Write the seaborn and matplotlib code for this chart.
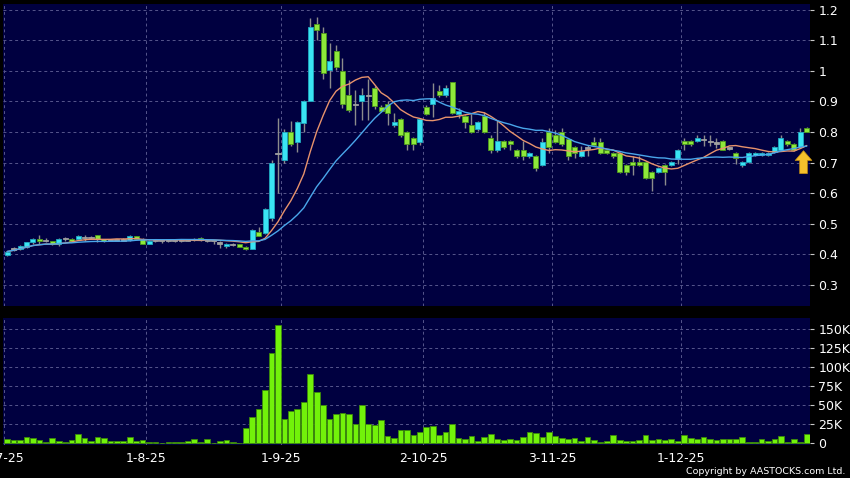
import matplotlib

matplotlib.use("Agg")

import matplotlib.pyplot as plt
import numpy as np
import pandas as pd
import seaborn as sns
from matplotlib.ticker import FuncFormatter

# trading days (HK holidays removed)
holidays = ["2025-10-01", "2025-10-07", "2025-10-29", "2025-12-25", "2025-12-26"]
dates = pd.bdate_range("2025-07-02", "2025-12-30").drop(pd.to_datetime(holidays))

opens = [
    0.396, 0.417, 0.417, 0.425, 0.441, 0.450, 0.446, 0.442, 0.433, 0.452,
    0.450, 0.450, 0.456, 0.456, 0.463, 0.449, 0.447, 0.447, 0.447, 0.447,
    0.460, 0.450, 0.433, 0.446, 0.446, 0.447, 0.446, 0.447, 0.447, 0.446,
    0.453, 0.446, 0.444, 0.437, 0.427, 0.433, 0.433, 0.425, 0.418, 0.472,
    0.470, 0.520, 0.731, 0.709, 0.800, 0.769, 0.831, 0.902, 1.153, 1.124,
    1.004, 1.065, 1.001, 0.920, 0.891, 0.900, 0.920, 0.944, 0.881, 0.891,
    0.824, 0.842, 0.800, 0.780, 0.769, 0.881, 0.891, 0.935, 0.921, 0.963,
    0.860, 0.851, 0.824, 0.810, 0.851, 0.780, 0.741, 0.771, 0.771, 0.742,
    0.742, 0.720, 0.720, 0.693, 0.800, 0.789, 0.800, 0.778, 0.750, 0.721,
    0.748, 0.769, 0.769, 0.742, 0.731, 0.731, 0.693, 0.702, 0.702, 0.702,
    0.669, 0.669, 0.691, 0.691, 0.713, 0.772, 0.772, 0.772, 0.775, 0.770,
    0.764, 0.772, 0.748, 0.731, 0.691, 0.702, 0.726, 0.724, 0.724, 0.735,
    0.742, 0.772, 0.761, 0.750, 0.813,
]
highs = [
    0.412, 0.425, 0.430, 0.440, 0.452, 0.462, 0.452, 0.445, 0.452, 0.455,
    0.452, 0.462, 0.462, 0.460, 0.463, 0.450, 0.450, 0.449, 0.452, 0.462,
    0.461, 0.452, 0.446, 0.448, 0.448, 0.449, 0.448, 0.449, 0.449, 0.452,
    0.455, 0.448, 0.446, 0.442, 0.436, 0.436, 0.435, 0.427, 0.482, 0.490,
    0.550, 0.710, 0.845, 0.810, 0.835, 0.835, 0.905, 1.173, 1.176, 1.145,
    1.090, 1.085, 1.042, 0.970, 0.938, 0.944, 0.973, 0.950, 0.890, 0.900,
    0.862, 0.845, 0.805, 0.785, 0.845, 0.890, 0.962, 0.955, 0.955, 0.965,
    0.880, 0.855, 0.860, 0.835, 0.866, 0.790, 0.840, 0.775, 0.775, 0.745,
    0.770, 0.735, 0.725, 0.780, 0.813, 0.808, 0.813, 0.780, 0.755, 0.755,
    0.758, 0.785, 0.780, 0.745, 0.735, 0.735, 0.695, 0.720, 0.720, 0.705,
    0.672, 0.685, 0.695, 0.705, 0.745, 0.780, 0.775, 0.790, 0.790, 0.790,
    0.780, 0.775, 0.752, 0.735, 0.705, 0.735, 0.735, 0.735, 0.735, 0.755,
    0.790, 0.775, 0.765, 0.813, 0.815,
]
lows = [
    0.395, 0.410, 0.415, 0.420, 0.435, 0.435, 0.440, 0.430, 0.428, 0.445,
    0.440, 0.448, 0.445, 0.450, 0.440, 0.440, 0.445, 0.444, 0.443, 0.445,
    0.448, 0.432, 0.432, 0.440, 0.438, 0.440, 0.440, 0.441, 0.444, 0.444,
    0.445, 0.440, 0.435, 0.420, 0.420, 0.428, 0.424, 0.414, 0.416, 0.460,
    0.465, 0.510, 0.600, 0.700, 0.753, 0.736, 0.800, 0.900, 1.100, 0.974,
    0.944, 1.003, 0.880, 0.867, 0.824, 0.840, 0.840, 0.875, 0.865, 0.824,
    0.818, 0.785, 0.741, 0.741, 0.758, 0.855, 0.850, 0.915, 0.915, 0.858,
    0.845, 0.813, 0.798, 0.805, 0.798, 0.730, 0.735, 0.745, 0.741, 0.715,
    0.710, 0.715, 0.671, 0.690, 0.731, 0.765, 0.755, 0.710, 0.715, 0.718,
    0.720, 0.755, 0.728, 0.728, 0.715, 0.665, 0.660, 0.660, 0.688, 0.645,
    0.606, 0.665, 0.628, 0.688, 0.695, 0.742, 0.755, 0.768, 0.755, 0.755,
    0.748, 0.740, 0.740, 0.695, 0.685, 0.700, 0.722, 0.722, 0.722, 0.733,
    0.740, 0.755, 0.738, 0.748, 0.800,
]
closes = [
    0.409, 0.417, 0.428, 0.439, 0.450, 0.444, 0.446, 0.433, 0.450, 0.452,
    0.444, 0.460, 0.456, 0.456, 0.449, 0.442, 0.447, 0.447, 0.447, 0.460,
    0.450, 0.433, 0.444, 0.446, 0.446, 0.447, 0.446, 0.447, 0.447, 0.451,
    0.446, 0.446, 0.444, 0.437, 0.433, 0.433, 0.425, 0.416, 0.480, 0.461,
    0.548, 0.700, 0.731, 0.800, 0.760, 0.832, 0.900, 1.143, 1.135, 0.993,
    1.031, 1.012, 0.891, 0.873, 0.891, 0.920, 0.920, 0.884, 0.870, 0.862,
    0.834, 0.790, 0.761, 0.761, 0.842, 0.858, 0.911, 0.921, 0.944, 0.862,
    0.870, 0.832, 0.800, 0.832, 0.800, 0.742, 0.771, 0.750, 0.761, 0.720,
    0.720, 0.731, 0.682, 0.769, 0.750, 0.769, 0.761, 0.720, 0.733, 0.739,
    0.748, 0.759, 0.731, 0.731, 0.720, 0.669, 0.669, 0.691, 0.691, 0.650,
    0.649, 0.682, 0.669, 0.702, 0.742, 0.761, 0.761, 0.780, 0.775, 0.770,
    0.764, 0.742, 0.748, 0.715, 0.702, 0.731, 0.731, 0.731, 0.731, 0.751,
    0.780, 0.761, 0.742, 0.800, 0.801,
]
# volume in thousands of shares
volumes = [
    5.3, 4.4, 4.4, 7.9, 6.6, 4.4, 1.3, 7.0, 3.0, 1.3,
    4.4, 11.8, 6.6, 3.0, 7.9, 7.0, 2.6, 2.6, 2.6, 7.9,
    3.0, 3.5, 1.8, 0.9, 0.4, 0.9, 0.9, 0.9, 2.6, 5.3,
    1.3, 5.3, 0.4, 3.0, 3.5, 0.9, 0.2, 19.3, 34.6, 44.3,
    69.7, 118.0, 155.0, 31.6, 42.0, 44.3, 54.4, 90.4, 67.5, 50.0,
    31.1, 38.2, 39.0, 38.6, 25.4, 50.0, 25.0, 23.7, 30.3, 8.8,
    6.6, 17.1, 16.7, 10.1, 14.0, 21.5, 22.4, 10.5, 14.5, 24.6,
    6.1, 5.3, 9.2, 2.6, 8.3, 11.4, 4.8, 3.9, 4.8, 3.9,
    7.9, 14.9, 13.6, 7.9, 14.9, 9.2, 7.0, 4.8, 7.0, 2.6,
    7.9, 3.9, 1.3, 2.6, 10.5, 3.9, 3.0, 2.6, 3.9, 10.5,
    3.9, 5.3, 3.5, 5.3, 3.0, 10.1, 7.0, 5.7, 7.9, 4.8,
    3.9, 5.3, 4.8, 4.8, 7.9, 1.8, 1.3, 5.3, 3.0, 5.3,
    9.2, 1.3, 5.0, 1.3, 11.4,
]

df = pd.DataFrame({"date": dates, "open": opens, "high": highs, "low": lows,
                   "close": closes, "volume": volumes})
df["pos"] = np.arange(len(df))
df["ma10"] = df["close"].rolling(10, min_periods=1).mean()
df["ma20"] = df["close"].rolling(20, min_periods=1).mean()

month_start = df.groupby([df["date"].dt.month])["pos"].min().to_numpy()
month_labels = [f"{d.day}-{d.month}-{d:%y}" for d in df["date"].iloc[month_start]]

BG = "#000000"
PANEL = "#000040"
GRID = "#56568c"
UP, UP_EDGE = "#3ae4f3", "#20a8c0"
DOWN, DOWN_EDGE = "#8ee83a", "#4e9a1c"
FLAT = "#a0a0a0"

sns.set_style("dark", rc={"axes.facecolor": PANEL, "figure.facecolor": BG})
plt.rcParams["font.family"] = ["DejaVu Sans"]

fig = plt.figure(figsize=(8.5, 4.78), dpi=100)
ax = fig.add_axes([0.0035, 0.360, 0.9494, 0.632])
axv = fig.add_axes([0.0035, 0.069, 0.9494, 0.2657])

grid_x = month_start - 0.5
for a in (ax, axv):
    a.set_facecolor(PANEL)
    for s in a.spines.values():
        s.set_visible(False)
    a.yaxis.tick_right()
    a.tick_params(axis="y", colors="#c8c8c8", labelcolor="white", length=3,
                  width=0.8, labelsize=9, pad=3)
    a.set_xticks(grid_x)
    a.grid(True, color=GRID, linestyle=(0, (3, 3)), linewidth=0.7)
    a.set_xlim(-0.65, 124.5)

# candles
up = df["close"] > df["open"]
down = df["close"] < df["open"]
colors = np.where(up, UP, np.where(down, DOWN, FLAT))
edges = np.where(up, UP_EDGE, np.where(down, DOWN_EDGE, FLAT))
body_lo = df[["open", "close"]].min(axis=1)
body_h = (df["close"] - df["open"]).abs()
body_h = np.where(body_h == 0, 0.004, body_h.clip(lower=0.0025))
ax.vlines(df["pos"], df["low"], df["high"], color="#8c8c8c", linewidth=1, zorder=2)
ax.bar(df["pos"], body_h, bottom=body_lo - np.where(up | down, 0, 0.002), width=0.78,
       color=colors, edgecolor=edges, linewidth=0.6, zorder=3)

sns.lineplot(data=df, x="pos", y="ma10", color="#e8936c", linewidth=1, ax=ax, zorder=4)
sns.lineplot(data=df, x="pos", y="ma20", color="#4aa6ea", linewidth=1, ax=ax, zorder=4)

ax.annotate("", xy=(123.5, 0.748), xytext=(123.5, 0.655),
            arrowprops=dict(arrowstyle="simple,head_width=1.2,head_length=0.7,tail_width=0.55",
                            color="#f6c02c", ec="#c89010", lw=0.5), zorder=5)

ax.set_ylim(0.231, 1.2196)
ax.set_yticks(np.arange(0.3, 1.21, 0.1))
ax.yaxis.set_major_formatter(FuncFormatter(lambda v, _: f"{v:g}"))
ax.tick_params(axis="x", length=0, labelbottom=False)
ax.set_xlabel("")
ax.set_ylabel("")

# volume
sns.barplot(data=df, x="pos", y="volume", native_scale=True, width=0.88,
            color="#72f20a", edgecolor="#3c8a0a", linewidth=0.6, saturation=1,
            errorbar=None, ax=axv, zorder=3)
axv.set_xlim(-0.65, 124.5)
axv.set_ylim(-2.6, 164.5)
axv.set_yticks([0, 25, 50, 75, 100, 125, 150])
axv.yaxis.set_major_formatter(FuncFormatter(lambda v, _: "0" if v == 0 else f"{v:g}K"))
axv.set_xticks(grid_x)
axv.set_xticklabels(month_labels)
axv.tick_params(axis="x", colors="#c8c8c8", labelcolor="white", length=3,
                width=0.8, labelsize=9, pad=2)
axv.set_xlabel("")
axv.set_ylabel("")

fig.text(0.994, 0.004, "Copyright by AASTOCKS.com Ltd.", color="white",
         fontsize=6.8, ha="right", va="bottom")

fig.savefig("out.png", dpi=100, facecolor=BG)
